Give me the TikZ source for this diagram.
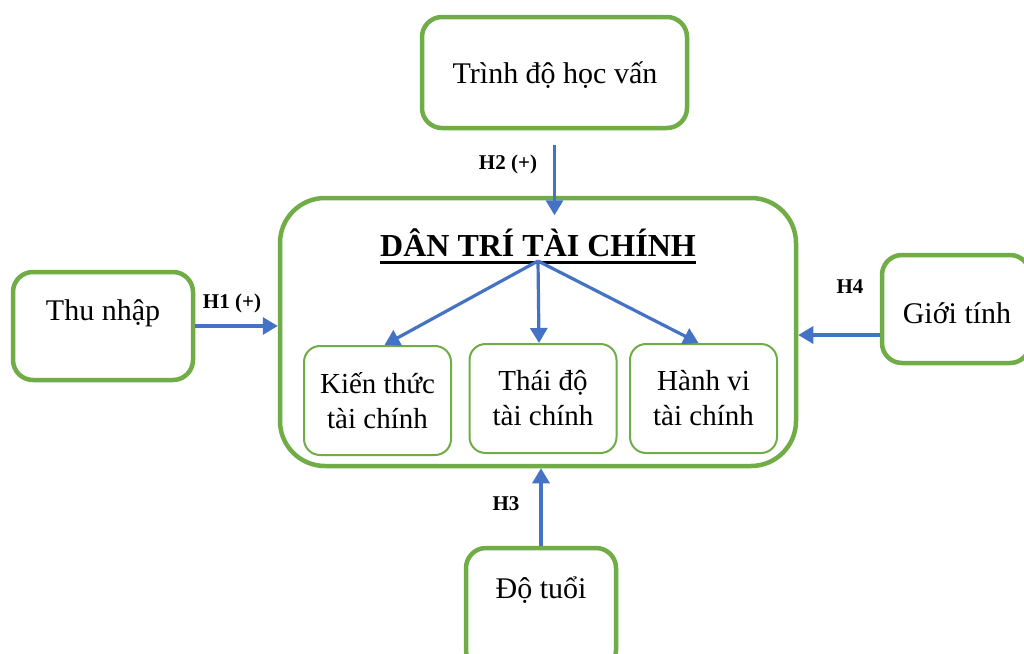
\documentclass[tikz,border=0pt]{standalone}
\usepackage{fontspec}
\setmainfont{Liberation Serif}
\usetikzlibrary{arrows.meta}
\definecolor{grn}{HTML}{70AD47}
\definecolor{blu}{HTML}{4472C4}
\begin{document}
\begin{tikzpicture}[x=1pt,y=-1pt,
  outerbox/.style={draw=grn, line width=4.5pt, rounded corners=20pt, inner sep=0pt},
  innerbox/.style={draw=grn, line width=2pt, rounded corners=16pt, inner sep=0pt,
     minimum width=147pt, minimum height=109pt, align=center,
     font=\fontsize{29}{35}\selectfont},
  bigtxt/.style={font=\fontsize{30}{34}\selectfont, inner sep=0pt},
  hlbl/.style={font=\fontsize{21}{24}\selectfont\bfseries, inner sep=0pt},
  arr/.style={draw=blu, line width=3.2pt, -{Triangle[length=15pt,width=17pt]}}]
\useasboundingbox[fill=white] (0,0) rectangle (1024,653);
% outer boxes
\node[outerbox, minimum width=265pt, minimum height=111pt] (edu) at (554.5,72.5) {};
\node[bigtxt] (edut) at (555,75) {Trình độ học vấn};
\node[outerbox, minimum width=180pt, minimum height=108pt] (inc) at (103,326) {};
\node[bigtxt] (inct) at (103,313) {Thu nhập};
\node[outerbox, minimum width=148pt, minimum height=108pt] (gen) at (956,309) {};
\node[bigtxt] (gent) at (957,313) {Giới tính};
\node[outerbox, minimum width=150pt, minimum height=122pt] (age) at (541,609) {};
\node[bigtxt] (aget) at (541,590) {Độ tuổi};
% main box
\node[outerbox, rounded corners=45pt, minimum width=516pt, minimum height=268pt] (main) at (538,332) {};
\node[font=\fontsize{32}{36}\selectfont\bfseries, inner sep=0pt] (title) at (538,243) {DÂN TRÍ TÀI CHÍNH};
\draw[line width=3pt] ([yshift=-6pt]title.base west) -- ([yshift=-6pt]title.base east);
\coordinate (hub) at (538,261);
% inner boxes
\node[innerbox] (kt) at (377.5,400.5) {Kiến thức\\tài chính};
\node[innerbox] (td) at (543,398.5) {Thái độ\\tài chính};
\node[innerbox] (hv) at (703.5,398.5) {Hành vi\\tài chính};
\draw[arr] (hub) -- ([xshift=7pt]kt.north);
\draw[arr] (hub) -- ([xshift=-4pt]td.north);
\draw[arr] (hub) -- ([xshift=-5pt]hv.north);
% influence arrows
\draw[arr] ([yshift=-15pt]edu.south) -- ++(0,70);
\draw[arr] (inc.east) -- (inc.east -| main.west);
\draw[arr] ([yshift=-26pt]gen.west) -- ([yshift=-26pt]gen.west -| main.east);
\draw[arr] (age.north) -- (age.north |- main.south);
% labels
\node[hlbl] (l2) at (508,164) {H2 (+)};
\node[hlbl] (l1) at (232,303) {H1 (+)};
\node[hlbl] (l4) at (850,287) {H4};
\node[hlbl] (l3) at (506,504) {H3};
\end{tikzpicture}
\end{document}
